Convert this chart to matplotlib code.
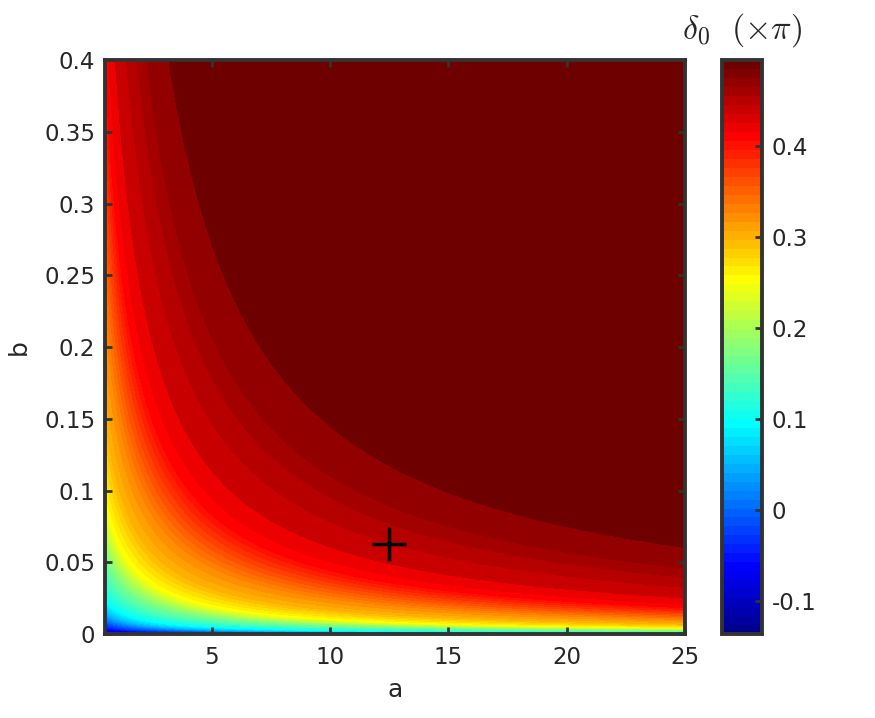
import matplotlib
matplotlib.use("Agg")
import matplotlib.pyplot as plt
import numpy as np
from matplotlib.colors import Normalize, ListedColormap
from matplotlib.cm import ScalarMappable
from matplotlib.ticker import FuncFormatter

plt.rcParams["mathtext.fontset"] = "cm"

a_shift = 0.68
product = [0.0, 0.004, 0.01, 0.018, 0.028, 0.069, 0.112, 0.18, 0.265, 0.49,
           0.65, 0.84, 1.02, 1.18, 1.55, 3.0, 10.3]
delta0 = [-0.136, -0.07, -0.01, 0.05, 0.094, 0.174, 0.254, 0.30, 0.33, 0.415,
          0.43, 0.44, 0.45, 0.46, 0.47, 0.476, 0.479]

a_range = [0.5, 25]
b_range = [0.0, 0.4]
marker_a = 12.5
marker_b = 0.0625

vmin, vmax = -0.136, 0.494
x_ticks = [5, 10, 15, 20, 25]
y_ticks = [0, 0.05, 0.1, 0.15, 0.2, 0.25, 0.3, 0.35, 0.4]
cbar_ticks = [-0.1, 0, 0.1, 0.2, 0.3, 0.4]


def matlab_jet(m=64):
    # same construction as MATLAB's jet(m)
    n = int(np.ceil(m / 4))
    u = np.concatenate([np.arange(1, n + 1) / n, np.ones(n - 1),
                        np.arange(n, 0, -1) / n])
    g = int(np.ceil(n / 2)) - (m % 4 == 1) + np.arange(1, len(u) + 1)
    r = g + n
    b = g - n
    J = np.zeros((m, 3))
    J[r[r <= m] - 1, 0] = u[r <= m]
    J[g[g <= m] - 1, 1] = u[g <= m]
    J[b[b >= 1] - 1, 2] = u[b >= 1]
    # dark end a bit deeper, as in the picture
    k = np.arange(m - 9, m)
    J[k, 0] = np.linspace(1.0, 0.43, 9)
    return ListedColormap(J)


# field on a fine grid
a = np.linspace(a_range[0], a_range[1], 500)
b = np.linspace(b_range[0], b_range[1], 700)
A, B = np.meshgrid(a, b)
P = B * (A + a_shift)
Z = np.interp(np.sqrt(P), np.sqrt(product), delta0)

cmap = matlab_jet(64)
norm = Normalize(vmin=vmin, vmax=vmax)
levels = list(np.round(np.arange(-0.14, 0.475, 0.01), 3)) + [0.52]

fig = plt.figure(figsize=(8.75, 7.18), dpi=100)
ax = fig.add_axes([0.12, 0.117, 0.663, 0.799])
cs = ax.contourf(A, B, Z, levels=levels, cmap=cmap, norm=norm)
cs.set_edgecolor("face")
cs.set_linewidth(0.4)

ax.plot(marker_a, marker_b, marker="+", color="black", markersize=24, mew=2.5)

ax.set_xlim(a_range)
ax.set_ylim(b_range)
ax.set_xticks(x_ticks)
ax.set_yticks(y_ticks)
ax.yaxis.set_major_formatter(FuncFormatter(lambda v, p: "%g" % v))
ax.tick_params(direction="in", length=5, width=2, top=True, right=True,
               labelsize=16.5, colors="#333333", labelcolor="#262626", pad=7)
ax.tick_params(axis="x", pad=9)
for s in ax.spines.values():
    s.set_linewidth(2.8)
    s.set_color("#333333")
ax.set_xlabel("a", fontsize=18, color="#262626", labelpad=6)
ax.set_ylabel("b", fontsize=18, color="#262626", labelpad=10)

# colorbar shows the 64 colour colormap
cax = fig.add_axes([0.825, 0.117, 0.046, 0.799])
cb = fig.colorbar(ScalarMappable(norm=norm, cmap=cmap), cax=cax)
cb.set_ticks(cbar_ticks)
cb.ax.yaxis.set_major_formatter(FuncFormatter(lambda v, p: "%g" % v))
cb.ax.tick_params(direction="in", length=5, width=2, labelsize=16.5,
                  colors="#333333", labelcolor="#262626", pad=7)
cb.outline.set_linewidth(2.8)
cb.outline.set_edgecolor("#333333")
cax.set_title(r"$\delta_0\ \ (\times\pi)$", fontsize=24.5, color="#262626", pad=16)

fig.savefig("out.png", dpi=100)
